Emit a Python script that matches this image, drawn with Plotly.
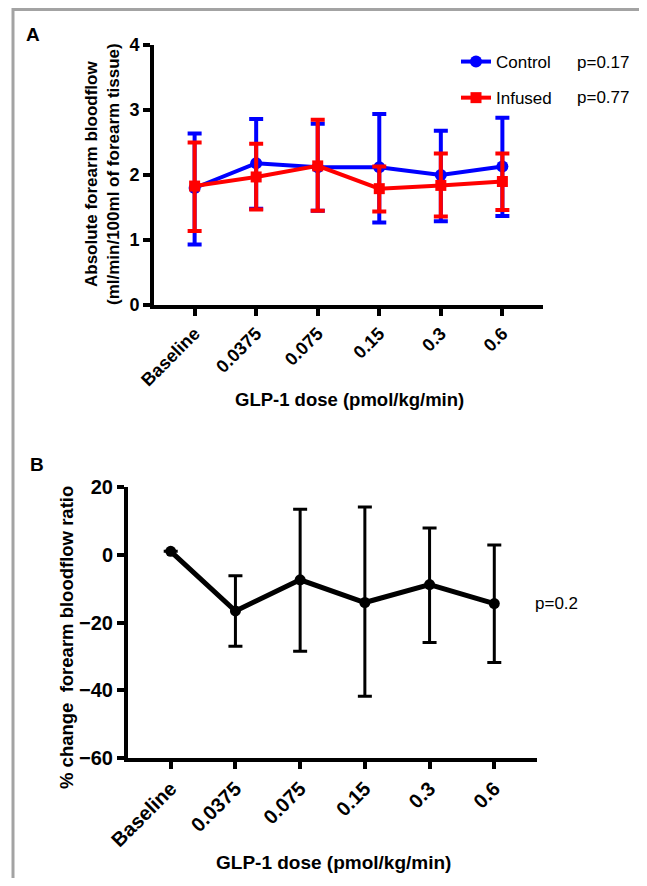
import plotly.graph_objects as go

# ---------------- data ----------------
categories = ["Baseline", "0.0375", "0.075", "0.15", "0.3", "0.6"]

control_mean = [1.80, 2.18, 2.12, 2.12, 2.00, 2.13]
control_upper = [2.64, 2.86, 2.79, 2.94, 2.68, 2.88]
control_lower = [0.93, 1.48, 1.45, 1.27, 1.29, 1.37]

infused_mean = [1.83, 1.97, 2.14, 1.79, 1.84, 1.90]
infused_upper = [2.50, 2.48, 2.85, 2.13, 2.33, 2.33]
infused_lower = [1.14, 1.47, 1.45, 1.44, 1.36, 1.46]

pct_mean = [1.0, -16.6, -7.4, -14.1, -8.8, -14.4]
pct_upper = [1.0, -6.2, 13.4, 14.1, 7.9, 2.9]
pct_lower = [1.0, -27.0, -28.5, -41.8, -25.9, -31.8]

p_control = "p=0.17"
p_infused = "p=0.77"
p_pct = "p=0.2"

# page body has an 8px margin, so the figure is drawn at (8, 8)
OFF = 8
W, H = 647 - OFF, 886 - 2 * OFF
FONT = "Liberation Sans, Arial, Helvetica, sans-serif"


def px_x(p):
    return (p - OFF) / W


def px_y(p):
    return 1 - (p - OFF) / H


def err(mean, upper, lower):
    plus = [u - m for u, m in zip(upper, mean)]
    minus = [m - l for m, l in zip(mean, lower)]
    return plus, minus


fig = go.Figure()

cp, cm = err(control_mean, control_upper, control_lower)
ip, im = err(infused_mean, infused_upper, infused_lower)
pp, pm = err(pct_mean, pct_upper, pct_lower)

fig.add_trace(go.Scatter(
    x=categories, y=control_mean, name="Control", mode="lines+markers",
    line=dict(color="#0000ff", width=4),
    marker=dict(color="#0000ff", size=12, symbol="circle"),
    error_y=dict(type="data", array=cp, arrayminus=cm, color="#0000ff",
                 thickness=4, width=7),
    legendgroup="c", xaxis="x", yaxis="y"))

fig.add_trace(go.Scatter(
    x=categories, y=infused_mean, name="Infused", mode="lines+markers",
    line=dict(color="#ff0000", width=4),
    marker=dict(color="#ff0000", size=11, symbol="square"),
    error_y=dict(type="data", array=ip, arrayminus=im, color="#ff0000",
                 thickness=4, width=7),
    legendgroup="i", xaxis="x", yaxis="y"))

fig.add_trace(go.Scatter(
    x=categories, y=pct_mean, name="% change", mode="lines+markers",
    line=dict(color="#000000", width=5),
    marker=dict(color="#000000", size=11, symbol="circle"),
    error_y=dict(type="data", array=pp, arrayminus=pm, color="#000000",
                 thickness=3, width=7),
    showlegend=False, xaxis="x2", yaxis="y2"))

axis_common = dict(
    showgrid=False, zeroline=False, showline=True, linecolor="black",
    linewidth=4, ticks="outside", tickwidth=4, ticklen=7, tickcolor="black",
    mirror=False, automargin=False,
)

fig.update_layout(
    width=W, height=H, autosize=False,
    margin=dict(l=0, r=0, t=0, b=0, pad=0, autoexpand=False),
    paper_bgcolor="white", plot_bgcolor="white",
    font=dict(family=FONT, color="black"),
    xaxis=dict(domain=[px_x(154), px_x(543)], range=[-0.66, 5.66],
               type="category", tickangle=-45, anchor="y",
               tickfont=dict(size=18, weight="bold", family=FONT),
               **axis_common),
    yaxis=dict(domain=[px_y(305), px_y(45)], range=[0, 4], dtick=1,
               anchor="x",
               tickfont=dict(size=18, weight="bold", family=FONT),
               **axis_common),
    xaxis2=dict(domain=[px_x(128), px_x(537)], range=[-0.66, 5.66],
                type="category", tickangle=-45, anchor="y2",
                tickfont=dict(size=20, weight="bold", family=FONT),
                **axis_common),
    yaxis2=dict(domain=[px_y(758), px_y(487)], range=[-60, 20], dtick=20,
                anchor="x2",
                tickfont=dict(size=20, weight="bold", family=FONT),
                **axis_common),
    showlegend=True,
    legend=dict(x=px_x(456), y=px_y(44), xanchor="left", yanchor="top",
                font=dict(size=17, family=FONT), bgcolor="rgba(0,0,0,0)",
                traceorder="grouped", tracegroupgap=11),
)

annotations = [
    dict(text="A", x=px_x(33), y=px_y(35), font=dict(size=19, weight="bold")),
    dict(text="B", x=px_x(37), y=px_y(464), font=dict(size=19, weight="bold")),
    dict(text="Absolute forearm bloodflow<br>(ml/min/100ml of forearm tissue)",
         x=px_x(102), y=px_y(174), textangle=-90,
         font=dict(size=17, weight="bold")),
    dict(text="GLP-1 dose (pmol/kg/min)", x=px_x(349), y=px_y(400),
         font=dict(size=18.5, weight="bold")),
    dict(text="% change  forearm bloodflow ratio", x=px_x(66), y=px_y(638),
         textangle=-90, font=dict(size=18.5, weight="bold")),
    dict(text="GLP-1 dose (pmol/kg/min)", x=px_x(333), y=px_y(862),
         font=dict(size=19, weight="bold")),
    dict(text=p_control, x=px_x(575), y=px_y(62), xanchor="left",
         font=dict(size=17)),
    dict(text=p_infused, x=px_x(575), y=px_y(97), xanchor="left",
         font=dict(size=17)),
    dict(text=p_pct, x=px_x(533), y=px_y(603), xanchor="left",
         font=dict(size=17)),
]
for a in annotations:
    a.setdefault("xanchor", "center")
    a.update(xref="paper", yref="paper", showarrow=False, yanchor="middle")
    a["font"] = dict(family=FONT, color="black", **a["font"])
fig.update_layout(annotations=annotations)

fig.add_shape(type="rect", xref="paper", yref="paper",
              x0=px_x(13), x1=px_x(643), y0=-0.05, y1=px_y(9.5),
              line=dict(color="#a3a3a3", width=3), fillcolor="rgba(0,0,0,0)",
              layer="below")

fig.write_html("out.html")
